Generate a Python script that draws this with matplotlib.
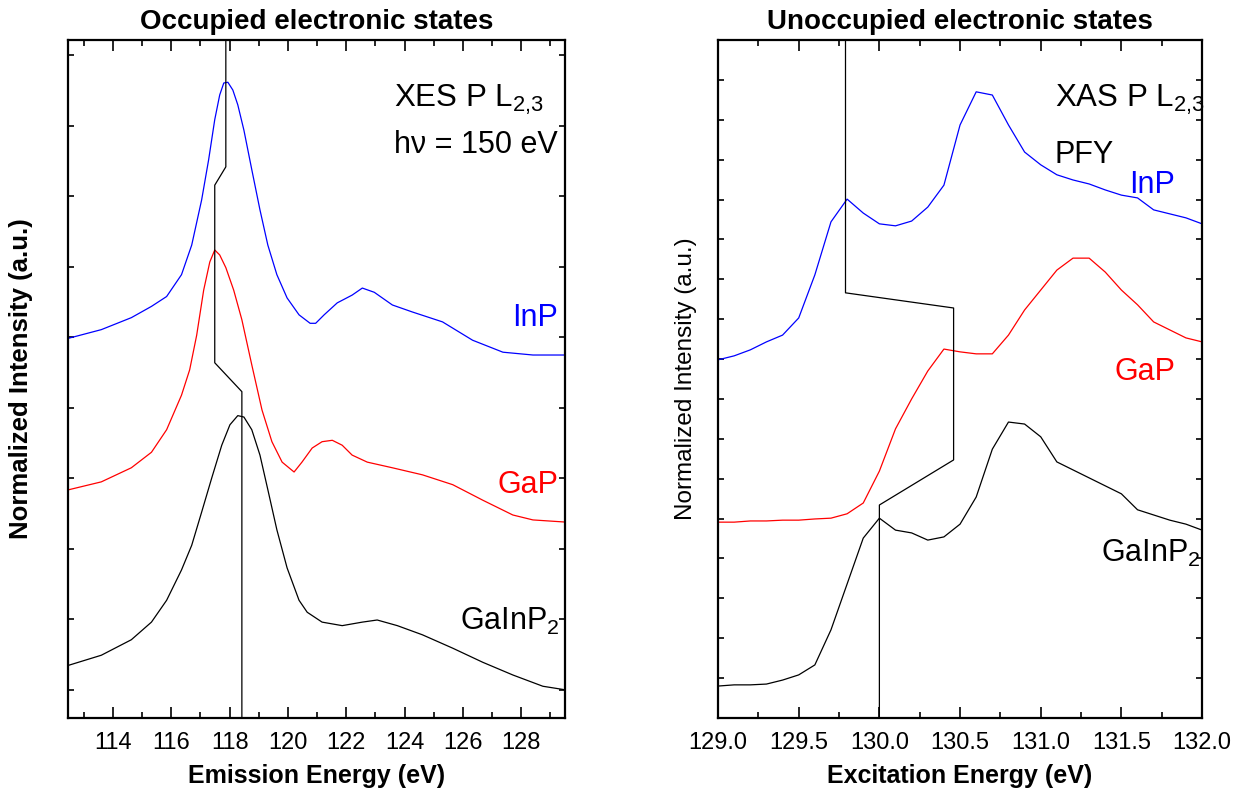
import numpy as np
import matplotlib
matplotlib.use('Agg')
import matplotlib.pyplot as plt
import matplotlib.ticker as mtk

plt.rcParams['font.family'] = ['Liberation Sans', 'DejaVu Sans']
plt.rcParams['mathtext.fontset'] = 'custom'
plt.rcParams['mathtext.rm'] = 'Liberation Sans'
plt.rcParams['mathtext.it'] = 'Liberation Sans'

# ---- XES P L2,3 (occupied states) ----
xes_inp_e = [112.5, 113.6, 114.63, 115.32, 115.84, 116.35, 116.70, 117.04, 117.28,
             117.49, 117.66, 117.80, 117.94, 118.11, 118.28, 118.49, 118.76, 119.04,
             119.31, 119.62, 119.97, 120.38, 120.76, 120.95, 121.24, 121.69, 122.20,
             122.55, 122.96, 123.58, 124.27, 125.30, 126.33, 127.37, 128.40, 129.5]
xes_inp_i = [4.99, 5.11, 5.28, 5.44, 5.58, 5.89, 6.31, 6.95, 7.52,
             8.09, 8.44, 8.61, 8.62, 8.51, 8.30, 7.94, 7.38, 6.81,
             6.31, 5.89, 5.56, 5.32, 5.20, 5.20, 5.32, 5.49, 5.60,
             5.70, 5.64, 5.46, 5.36, 5.22, 4.96, 4.79, 4.75, 4.75]

xes_gap_e = [112.5, 113.6, 114.63, 115.32, 115.84, 116.35, 116.63, 116.87, 117.11,
             117.32, 117.49, 117.66, 117.87, 118.14, 118.42, 118.76, 119.11, 119.45,
             119.80, 120.21, 120.48, 120.83, 121.17, 121.52, 121.86, 122.20, 122.72,
             123.58, 124.61, 125.65, 126.68, 127.71, 128.40, 129.5]
xes_gap_i = [2.84, 2.95, 3.15, 3.37, 3.69, 4.18, 4.54, 5.03, 5.67,
             6.07, 6.24, 6.17, 5.99, 5.67, 5.25, 4.61, 3.97, 3.52,
             3.23, 3.09, 3.23, 3.43, 3.52, 3.54, 3.47, 3.33, 3.23,
             3.15, 3.05, 2.91, 2.69, 2.48, 2.41, 2.38]

xes_gainp_e = [112.5, 113.6, 114.63, 115.32, 115.84, 116.35, 116.70, 117.04, 117.39,
               117.73, 118.01, 118.28, 118.49, 118.76, 119.04, 119.31, 119.62, 119.97,
               120.38, 120.66, 121.17, 121.86, 122.55, 123.06, 123.75, 124.61, 125.65,
               126.68, 127.71, 128.74, 129.5]
xes_gainp_i = [0.35, 0.49, 0.71, 0.96, 1.27, 1.70, 2.05, 2.52, 3.01,
               3.47, 3.76, 3.89, 3.87, 3.69, 3.33, 2.84, 2.27, 1.73,
               1.27, 1.10, 0.96, 0.91, 0.96, 0.99, 0.91, 0.78, 0.59,
               0.39, 0.21, 0.05, 0.00]

# peak marker line (left panel)
xes_mark_e = [117.87, 117.87, 117.49, 117.49, 118.42, 118.42]
xes_mark_i = [9.22, 7.42, 7.16, 4.64, 4.23, -0.4]

# ---- XAS P L2,3 PFY (unoccupied states) ----
xas_e = [129.0, 129.1, 129.2, 129.3, 129.4, 129.5, 129.6, 129.7, 129.8, 129.9,
         130.0, 130.1, 130.2, 130.3, 130.4, 130.5, 130.6, 130.7, 130.8, 130.9,
         131.0, 131.1, 131.2, 131.3, 131.4, 131.5, 131.6, 131.7, 131.8, 131.9, 132.0]
xas_inp = [8.98, 9.08, 9.23, 9.43, 9.60, 10.03, 11.11, 12.44, 13.01, 12.66,
           12.39, 12.34, 12.46, 12.81, 13.36, 14.87, 15.70, 15.62, 14.87, 14.19,
           13.87, 13.62, 13.49, 13.39, 13.24, 13.11, 13.04, 12.74, 12.64, 12.54, 12.39]
xas_gap = [4.91, 4.91, 4.94, 4.94, 4.96, 4.96, 4.99, 5.01, 5.12, 5.39,
           6.19, 7.25, 8.00, 8.70, 9.25, 9.18, 9.13, 9.13, 9.60, 10.23,
           10.73, 11.23, 11.53, 11.53, 11.18, 10.73, 10.36, 9.93, 9.73, 9.53, 9.43]
xas_gainp = [0.80, 0.83, 0.83, 0.85, 0.95, 1.08, 1.33, 2.21, 3.36, 4.51,
             5.01, 4.71, 4.64, 4.46, 4.54, 4.86, 5.54, 6.74, 7.42, 7.37,
             7.05, 6.42, 6.22, 6.02, 5.82, 5.62, 5.22, 5.09, 4.96, 4.86, 4.71]

xas_mark_e = [129.79, 129.79, 130.46, 130.46, 130.0, 130.0]
xas_mark_i = [17.0, 10.66, 10.28, 6.47, 5.34, 0.0]

fig = plt.figure(figsize=(12.44, 7.95), dpi=100)
ax1 = fig.add_axes([0.0547, 0.0969, 0.3995, 0.8528])
ax2 = fig.add_axes([0.5772, 0.0969, 0.3891, 0.8528])

lw = 0.9
# left panel
ax1.plot(xes_inp_e, xes_inp_i, c='blue', lw=lw)
ax1.plot(xes_gap_e, xes_gap_i, c='red', lw=lw)
ax1.plot(xes_gainp_e, xes_gainp_i, c='black', lw=lw)
ax1.plot(xes_mark_e, xes_mark_i, c='black', lw=0.9)
ax1.set_xlim(112.46, 129.5)
ax1.set_ylim(-0.4, 9.22)
ax1.xaxis.set_major_locator(mtk.MultipleLocator(2))
ax1.xaxis.set_minor_locator(mtk.MultipleLocator(1))
ax1.yaxis.set_major_locator(mtk.MultipleLocator(1))
ax1.set_yticklabels([])
ax1.set_xlabel('Emission Energy (eV)', fontsize=18, fontweight='bold', labelpad=7)
ax1.set_ylabel('Normalized Intensity (a.u.)', fontsize=18.5, fontweight='bold',
               labelpad=22)
ax1.set_title('Occupied electronic states', fontsize=20, fontweight='bold', pad=8)

ax1.text(0.656, 0.911, 'XES P L$_{2{,}3}$', transform=ax1.transAxes, fontsize=22.5,
         va='center', ha='left')
ax1.text(0.656, 0.845, 'h\u03bd = 150 eV', transform=ax1.transAxes, fontsize=22,
         va='center', ha='left')
ax1.text(0.986, 0.59, 'InP', transform=ax1.transAxes, fontsize=22, color='blue',
         va='center', ha='right')
ax1.text(0.986, 0.344, 'GaP', transform=ax1.transAxes, fontsize=22, color='red',
         va='center', ha='right')
ax1.text(0.99, 0.142, 'GaInP$_2$', transform=ax1.transAxes, fontsize=22,
         va='center', ha='right')

# right panel
ax2.plot(xas_e, xas_inp, c='blue', lw=lw)
ax2.plot(xas_e, xas_gap, c='red', lw=lw)
ax2.plot(xas_e, xas_gainp, c='black', lw=lw)
ax2.plot(xas_mark_e, xas_mark_i, c='black', lw=0.9)
ax2.set_xlim(129.0, 132.0)
ax2.set_ylim(0, 17)
ax2.xaxis.set_major_locator(mtk.MultipleLocator(0.5))
ax2.xaxis.set_minor_locator(mtk.MultipleLocator(0.25))
ax2.xaxis.set_major_formatter(mtk.FormatStrFormatter('%.1f'))
ax2.yaxis.set_major_locator(mtk.MultipleLocator(1))
ax2.set_yticklabels([])
ax2.set_xlabel('Excitation Energy (eV)', fontsize=18, fontweight='bold', labelpad=7)
ax2.set_ylabel('Normalized Intensity (a.u.)', fontsize=17.5, labelpad=12)
ax2.set_title('Unoccupied electronic states', fontsize=20, fontweight='bold', pad=8)

ax2.text(0.696, 0.911, 'XAS P L$_{2{,}3}$', transform=ax2.transAxes, fontsize=22.5,
         va='center', ha='left')
ax2.text(0.696, 0.830, 'PFY', transform=ax2.transAxes, fontsize=22,
         va='center', ha='left')
ax2.text(0.944, 0.786, 'InP', transform=ax2.transAxes, fontsize=22, color='blue',
         va='center', ha='right')
ax2.text(0.944, 0.510, 'GaP', transform=ax2.transAxes, fontsize=22, color='red',
         va='center', ha='right')
ax2.text(0.998, 0.243, 'GaInP$_2$', transform=ax2.transAxes, fontsize=22,
         va='center', ha='right')

for ax in (ax1, ax2):
    for s in ax.spines.values():
        s.set_linewidth(1.6)
    ax.tick_params(axis='both', which='both', direction='in', top=True, right=True,
                   width=1.2)
    ax.tick_params(axis='x', which='major', length=8, labelsize=17, pad=10)
    ax.tick_params(axis='x', which='minor', length=4)
    ax.tick_params(axis='y', which='major', length=4)

fig.savefig('out.png', dpi=100)
